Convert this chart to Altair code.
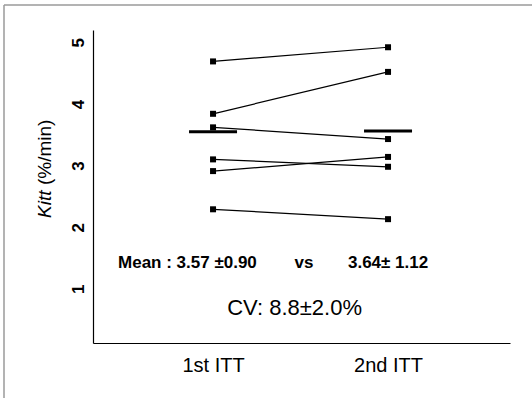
import altair as alt
import pandas as pd

# ---- data ----
trials = [1, 2]
trial_labels = ["1st ITT", "2nd ITT"]
kitt_1st = [4.69, 3.84, 3.62, 3.10, 2.91, 2.29]
kitt_2nd = [4.92, 4.52, 3.43, 2.98, 3.14, 2.13]
mean_drawn = [3.55, 3.56]
y_ticks = [1, 2, 3, 4, 5]

mean_label = "Mean : 3.57 \u00b10.90"
vs_label = "vs"
mean2_label = "3.64\u00b1 1.12"
cv_label = "CV: 8.8\u00b12.0%"
# annotation anchor positions in data units (trial, Kitt)
ann_x = [0.457, 1.52, 1.771, 1.466]
ann_y = [1.42, 1.42, 1.42, 0.69]

rows = []
for i, (a, b) in enumerate(zip(kitt_1st, kitt_2nd)):
    rows.append({"subject": i, "trial": trials[0], "kitt": a})
    rows.append({"subject": i, "trial": trials[1], "kitt": b})
df = pd.DataFrame(rows)
df_mean = pd.DataFrame({"trial": trials, "kitt": mean_drawn})

FONT = "Liberation Sans"

xs = alt.Scale(domain=[0.314, 2.697], nice=False, zero=False)
ys = alt.Scale(domain=[0.12, 5.20], nice=False, zero=False)

label_expr = " : ".join(
    [f"datum.value == {t} ? '{l}'" for t, l in zip(trials[:-1], trial_labels[:-1])]
) + f" : '{trial_labels[-1]}'"

x_axis = alt.Axis(
    values=trials, labelExpr=label_expr, ticks=False, tickSize=0, grid=False,
    labelFont=FONT, labelFontSize=20, labelColor="black", labelBaseline="middle",
    labelPadding=22, domainColor="black", domainWidth=1.2, title=None,
)
y_axis = alt.Axis(
    values=y_ticks, format="d", ticks=False, tickSize=0, grid=False, labelAngle=270,
    labelAlign="center", labelBaseline="alphabetic", labelPadding=10,
    labelFont=FONT, labelFontSize=17, labelFontWeight="bold", labelColor="black",
    domainColor="black", domainWidth=1.2, title=None,
)

X = alt.X("trial:Q", scale=xs, axis=x_axis)
Y = alt.Y("kitt:Q", scale=ys, axis=y_axis)

lines = alt.Chart(df).mark_line(color="black", strokeWidth=1.2).encode(
    x=X, y=Y, detail="subject:N"
)
points = alt.Chart(df).mark_square(size=36, color="black", opacity=1, filled=True).encode(
    x=X, y=Y
)
means = alt.Chart(df_mean).mark_tick(
    orient="horizontal", size=48, thickness=3, color="black", opacity=1
).encode(x=X, y=Y)

def text_layer(i, txt, size, weight, align):
    d = pd.DataFrame({"trial": [ann_x[i]], "kitt": [ann_y[i]], "t": [txt]})
    return alt.Chart(d).mark_text(
        font=FONT, fontSize=size, fontWeight=weight, align=align,
        baseline="middle", color="black",
    ).encode(x=alt.X("trial:Q", scale=xs), y=alt.Y("kitt:Q", scale=ys), text="t:N")

t_mean = text_layer(0, mean_label, 17, "bold", "left")
t_vs = text_layer(1, vs_label, 17, "bold", "center")
t_mean2 = text_layer(2, mean2_label, 17, "bold", "left")
t_cv = text_layer(3, cv_label, 22, "normal", "center")

# y-axis title with italic symbol
title_df = pd.DataFrame({"a": [0]})
title_k = alt.Chart(title_df).mark_text(
    text="Kitt", font=FONT, fontSize=19, fontStyle="italic", angle=270,
    align="left", baseline="middle", color="black",
).encode(x=alt.value(-48), y=alt.value(188))
title_u = alt.Chart(title_df).mark_text(
    text="(%/min)", font=FONT, fontSize=19, angle=270,
    align="left", baseline="middle", color="black",
).encode(x=alt.value(-48), y=alt.value(155))

# scanned-page frame
frame_l = alt.Chart(title_df).mark_rule(color="#9a9a9a", strokeWidth=1.5).encode(
    x=alt.value(-89), y=alt.value(-25), y2=alt.value(368)
)
frame_t = alt.Chart(title_df).mark_rule(color="#9a9a9a", strokeWidth=1.5).encode(
    x=alt.value(-89), x2=alt.value(439), y=alt.value(-25)
)

chart = alt.layer(
    frame_l, frame_t, lines, points, means, t_mean, t_vs, t_mean2, t_cv, title_k, title_u
).properties(
    width=417, height=313,
    autosize=alt.AutoSizeParams(type="none"),
    padding={"left": 93, "top": 30, "right": 22, "bottom": 55},
    background="white",
).configure_view(stroke=None)

chart.save("out.html", embed_options={"renderer": "svg", "actions": False})
